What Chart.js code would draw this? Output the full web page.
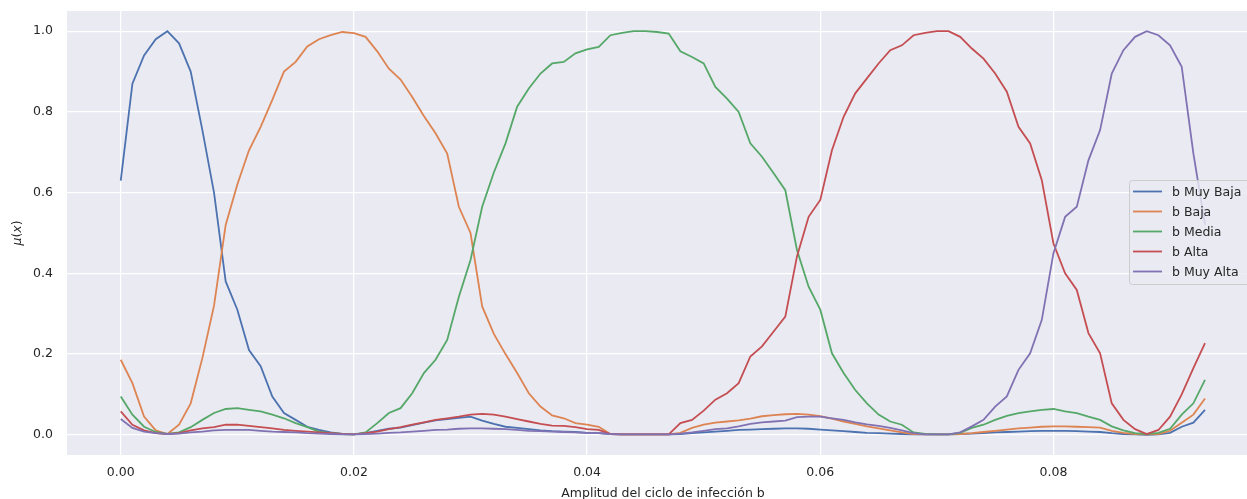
<!DOCTYPE html>
<html>
<head>
<meta charset="utf-8">
<script src="https://cdn.jsdelivr.net/npm/chart.js@4"></script>
<style>
  html, body { margin: 0; padding: 0; background: #fff; }
  #wrap { width: 1247px; height: 499px; }
</style>
</head>
<body>
<div id="wrap"><canvas id="grafico" width="1247" height="499"></canvas></div>
<script>
// muestreo del eje b (paso 0.001, de 0 a 0.093)
const bValues = Array.from({ length: 94 }, (_, i) => +(i * 0.001).toFixed(3));

const etiquetas = ['b Muy Baja', 'b Baja', 'b Media', 'b Alta', 'b Muy Alta'];
const colores = ['#4C72B0', '#DD8452', '#55A868', '#C44E52', '#8172B3'];

const muyBaja = [
  0.63, 0.87, 0.94, 0.98, 1.0, 0.97, 0.90, 0.755, 0.60, 0.38,
  0.31, 0.21, 0.17, 0.095, 0.054, 0.037, 0.02, 0.012, 0.006, 0.002,
  0.001, 0.004, 0.01, 0.015, 0.018, 0.024, 0.03, 0.036, 0.039, 0.042,
  0.045, 0.035, 0.027, 0.02, 0.017, 0.014, 0.011, 0.009, 0.008, 0.007,
  0.005, 0.004, 0.002, 0.001, 0.001, 0.001, 0.001, 0.001, 0.002, 0.004,
  0.006, 0.008, 0.01, 0.012, 0.013, 0.014, 0.015, 0.016, 0.016, 0.015,
  0.013, 0.011, 0.009, 0.007, 0.005, 0.004, 0.003, 0.002, 0.001, 0.001,
  0.001, 0.001, 0.002, 0.003, 0.004, 0.006, 0.007, 0.008, 0.009, 0.01,
  0.01, 0.01, 0.009, 0.008, 0.007, 0.004, 0.002, 0.001, 0.0, 0.001,
  0.005, 0.02, 0.03, 0.062
];
const baja = [
  0.186, 0.128, 0.045, 0.011, 0.002, 0.025, 0.078, 0.19, 0.32, 0.52,
  0.62, 0.705, 0.763, 0.83, 0.90, 0.924, 0.962, 0.98, 0.99, 0.998,
  0.995, 0.986, 0.95, 0.907, 0.88, 0.837, 0.79, 0.747, 0.697, 0.565,
  0.50, 0.318, 0.25, 0.20, 0.153, 0.103, 0.07, 0.048, 0.041, 0.029,
  0.025, 0.02, 0.002, 0.001, 0.001, 0.001, 0.001, 0.001, 0.005, 0.017,
  0.025, 0.03, 0.033, 0.036, 0.04, 0.046, 0.049, 0.051, 0.052, 0.05,
  0.046, 0.04, 0.033, 0.027, 0.021, 0.016, 0.011, 0.006, 0.002, 0.001,
  0.001, 0.001, 0.002, 0.004, 0.007, 0.01, 0.013, 0.016, 0.018, 0.02,
  0.021, 0.021, 0.02, 0.019, 0.018, 0.01, 0.005, 0.002, 0.001, 0.002,
  0.01, 0.03, 0.05, 0.09
];
const media = [
  0.095, 0.05, 0.02, 0.007, 0.002, 0.006, 0.019, 0.037, 0.054, 0.064,
  0.066, 0.062, 0.058, 0.05, 0.041, 0.029, 0.019, 0.008, 0.004, 0.002,
  0.001, 0.006, 0.029, 0.054, 0.066, 0.103, 0.153, 0.186, 0.235, 0.342,
  0.433, 0.565, 0.65, 0.722, 0.813, 0.858, 0.895, 0.92, 0.924, 0.945,
  0.955, 0.961, 0.99, 0.996, 1.0, 1.0, 0.998, 0.994, 0.95, 0.936,
  0.92, 0.862, 0.833, 0.80, 0.722, 0.689, 0.648, 0.606, 0.458, 0.367,
  0.31, 0.202, 0.153, 0.111, 0.078, 0.05, 0.033, 0.025, 0.006, 0.002,
  0.001, 0.001, 0.005, 0.017, 0.025, 0.037, 0.047, 0.054, 0.058, 0.062,
  0.064, 0.058, 0.054, 0.045, 0.037, 0.021, 0.011, 0.004, 0.002, 0.005,
  0.015, 0.05, 0.078, 0.136
];
const alta = [
  0.058, 0.025, 0.011, 0.004, 0.002, 0.004, 0.011, 0.016, 0.019, 0.025,
  0.025, 0.022, 0.019, 0.016, 0.012, 0.01, 0.008, 0.006, 0.004, 0.002,
  0.001, 0.004, 0.008, 0.014, 0.019, 0.025, 0.031, 0.037, 0.041, 0.045,
  0.05, 0.052, 0.05, 0.045, 0.039, 0.033, 0.027, 0.023, 0.022, 0.019,
  0.014, 0.012, 0.002, 0.001, 0.001, 0.001, 0.001, 0.001, 0.029, 0.037,
  0.06, 0.087, 0.103, 0.128, 0.194, 0.219, 0.256, 0.293, 0.442, 0.54,
  0.582, 0.705, 0.788, 0.846, 0.883, 0.92, 0.953, 0.965, 0.99, 0.996,
  1.0, 1.0, 0.986, 0.957, 0.932, 0.895, 0.85, 0.763, 0.722, 0.631,
  0.474, 0.40, 0.359, 0.252, 0.202, 0.078, 0.037, 0.014, 0.002, 0.012,
  0.045, 0.10, 0.165, 0.227
];
const muyAlta = [
  0.039, 0.017, 0.008, 0.004, 0.002, 0.003, 0.006, 0.008, 0.011, 0.012,
  0.012, 0.012, 0.01, 0.008, 0.007, 0.006, 0.004, 0.003, 0.002, 0.001,
  0.001, 0.002, 0.003, 0.005, 0.006, 0.008, 0.01, 0.012, 0.013, 0.015,
  0.016, 0.016, 0.015, 0.014, 0.012, 0.01, 0.009, 0.008, 0.007, 0.006,
  0.005, 0.004, 0.002, 0.001, 0.001, 0.001, 0.001, 0.001, 0.003, 0.006,
  0.01, 0.014, 0.016, 0.021, 0.027, 0.031, 0.033, 0.035, 0.044, 0.045,
  0.045, 0.041, 0.037, 0.031, 0.026, 0.022, 0.017, 0.011, 0.004, 0.001,
  0.001, 0.001, 0.006, 0.021, 0.037, 0.07, 0.095, 0.161, 0.202, 0.285,
  0.45, 0.54, 0.565, 0.68, 0.755, 0.895, 0.953, 0.986, 1.0, 0.99,
  0.965, 0.912, 0.697, 0.52
];

const series = [muyBaja, baja, media, alta, muyAlta];

const fuente = '"DejaVu Sans", sans-serif';
const texto = '#262626';

// fondo gris del area del grafico (estilo seaborn)
const fondo = {
  id: 'fondo',
  beforeDraw(chart) {
    const { ctx, chartArea: a } = chart;
    ctx.save();
    ctx.fillStyle = '#EAEAF2';
    ctx.fillRect(a.left, a.top, a.right - a.left, a.bottom - a.top);
    ctx.restore();
  }
};

// titulos de los ejes
const titulos = {
  id: 'titulos',
  afterDraw(chart) {
    const ctx = chart.ctx;
    ctx.save();
    ctx.fillStyle = texto;
    ctx.font = '12.5px ' + fuente;
    ctx.textAlign = 'center';
    ctx.textBaseline = 'alphabetic';
    ctx.fillText('Amplitud del ciclo de infección b', 663, 497);

    // μ(x) con μ y x en cursiva
    const partes = [['μ', 'italic '], ['(', ''], ['x', 'italic '], [')', '']];
    let total = 0;
    partes.forEach(p => { ctx.font = p[1] + '12.5px ' + fuente; total += ctx.measureText(p[0]).width; });
    ctx.translate(21, 233);
    ctx.rotate(-Math.PI / 2);
    ctx.textAlign = 'left';
    let x = -total / 2;
    partes.forEach(p => {
      ctx.font = p[1] + '12.5px ' + fuente;
      ctx.fillText(p[0], x, 0);
      x += ctx.measureText(p[0]).width;
    });
    ctx.restore();
  }
};

// leyenda dentro del grafico, a la derecha
const leyenda = {
  id: 'leyenda',
  afterDraw(chart) {
    const ctx = chart.ctx;
    ctx.save();
    ctx.beginPath();
    ctx.roundRect(1129.5, 180.5, 140, 104, 3);
    ctx.fillStyle = 'rgba(234,234,242,0.8)';
    ctx.fill();
    ctx.strokeStyle = '#cccccc';
    ctx.lineWidth = 1;
    ctx.stroke();
    ctx.font = '12.5px ' + fuente;
    ctx.textBaseline = 'middle';
    chart.data.datasets.forEach((ds, i) => {
      const y = 191.5 + i * 20;
      ctx.strokeStyle = ds.borderColor;
      ctx.lineWidth = 1.8;
      ctx.beginPath();
      ctx.moveTo(1133, y);
      ctx.lineTo(1162, y);
      ctx.stroke();
      ctx.fillStyle = texto;
      ctx.fillText(ds.label, 1172, y + 1);
    });
    ctx.restore();
  }
};

const datasets = series.map((s, k) => ({
  label: etiquetas[k],
  data: s.map((v, i) => ({ x: bValues[i], y: v })),
  borderColor: colores[k],
  backgroundColor: colores[k],
  borderWidth: 1.8,
  pointRadius: 0,
  tension: 0,
  fill: false,
  order: series.length - k
}));

new Chart(document.getElementById('grafico'), {
  type: 'line',
  data: { datasets },
  plugins: [fondo, titulos, leyenda],
  options: {
    responsive: false,
    devicePixelRatio: 1,
    animation: false,
    events: [],
    layout: { padding: { top: 11, left: 0, right: 0, bottom: 0 } },
    plugins: {
      legend: { display: false },
      tooltip: { enabled: false }
    },
    scales: {
      x: {
        type: 'linear',
        min: -0.00461,
        max: 0.0966,
        afterFit(s) { s.height = 44; s.paddingLeft = 0; s.paddingRight = 0; },
        border: { display: false },
        grid: { color: '#ffffff', lineWidth: 1.25, drawTicks: false },
        ticks: {
          stepSize: 0.02,
          includeBounds: false,
          autoSkip: false,
          maxRotation: 0,
          padding: 10,
          color: texto,
          font: { family: fuente, size: 12.5 },
          callback: v => v.toFixed(2)
        }
      },
      y: {
        type: 'linear',
        min: -0.05,
        max: 1.05,
        afterFit(s) { s.width = 67; s.paddingTop = 0; s.paddingBottom = 0; },
        border: { display: false },
        grid: { color: '#ffffff', lineWidth: 1.25, drawTicks: false },
        ticks: {
          stepSize: 0.2,
          includeBounds: false,
          padding: 14,
          color: texto,
          font: { family: fuente, size: 12.5 },
          callback: v => v.toFixed(1)
        }
      }
    }
  }
});
</script>
</body>
</html>
